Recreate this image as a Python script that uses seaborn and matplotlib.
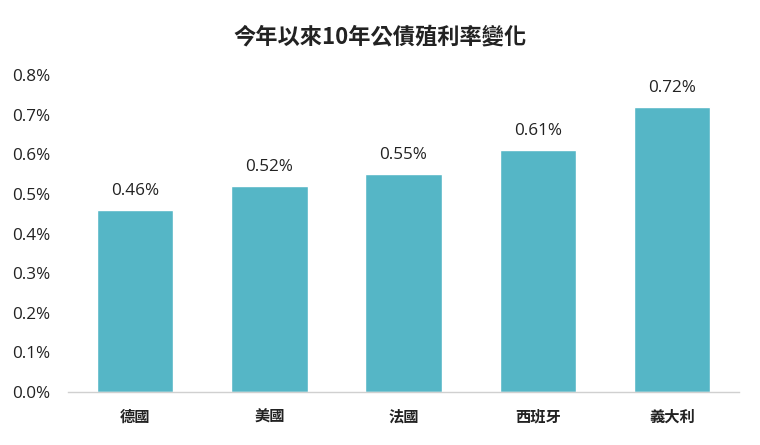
import matplotlib
matplotlib.use("Agg")
import matplotlib.pyplot as plt
import seaborn as sns
import pandas as pd
from matplotlib.ticker import FuncFormatter

# 資料
paises = ["德國", "美國", "法國", "西班牙", "義大利"]
rendimento = [0.46, 0.52, 0.55, 0.61, 0.72]
rotulos = ["0.46%", "0.52%", "0.55%", "0.61%", "0.72%"]

df = pd.DataFrame({"pais": paises, "valor": rendimento})

sns.set_style("white")
plt.rcParams['font.family'] = ['Noto Sans CJK TC', 'DejaVu Sans']
num_font = ['Open Sans', 'Noto Sans CJK TC']

fig = plt.figure(figsize=(7.6, 4.45), dpi=100)
ax = fig.add_axes([0.0895, 0.119, 0.883, 0.712])

sns.barplot(data=df, x="pais", y="valor", color="#55B6C6", width=0.57,
            saturation=1, ax=ax)

for i, (v, t) in enumerate(zip(rendimento, rotulos)):
    ax.text(i, v + 0.028, t, ha="center", va="bottom", fontsize=12.3,
            color="#222222", family=num_font)

ax.set_ylim(0, 0.8)
ax.set_yticks([0, 0.1, 0.2, 0.3, 0.4, 0.5, 0.6, 0.7, 0.8])
ax.yaxis.set_major_formatter(FuncFormatter(lambda y, _: f"{y:.1f}%"))
ax.set_xlim(-0.5, 4.5)
ax.set_xlabel("")
ax.set_ylabel("")
ax.tick_params(axis="y", labelsize=12.3, length=0, pad=13, colors="#222222")
ax.tick_params(axis="x", labelsize=11, length=0, pad=12, colors="#222222")
for lab in ax.get_yticklabels():
    lab.set_family(num_font)
for lab in ax.get_xticklabels():
    lab.set_fontweight("bold")

for s in ["top", "right", "left"]:
    ax.spines[s].set_visible(False)
ax.spines["bottom"].set_color("#d0d0d0")
ax.spines["bottom"].set_linewidth(1)

fig.text(0.5, 0.917, "今年以來10年公債殖利率變化", ha="center", va="center",
         fontsize=16, fontweight="bold", color="#222222")

fig.savefig("out.png", dpi=100)
